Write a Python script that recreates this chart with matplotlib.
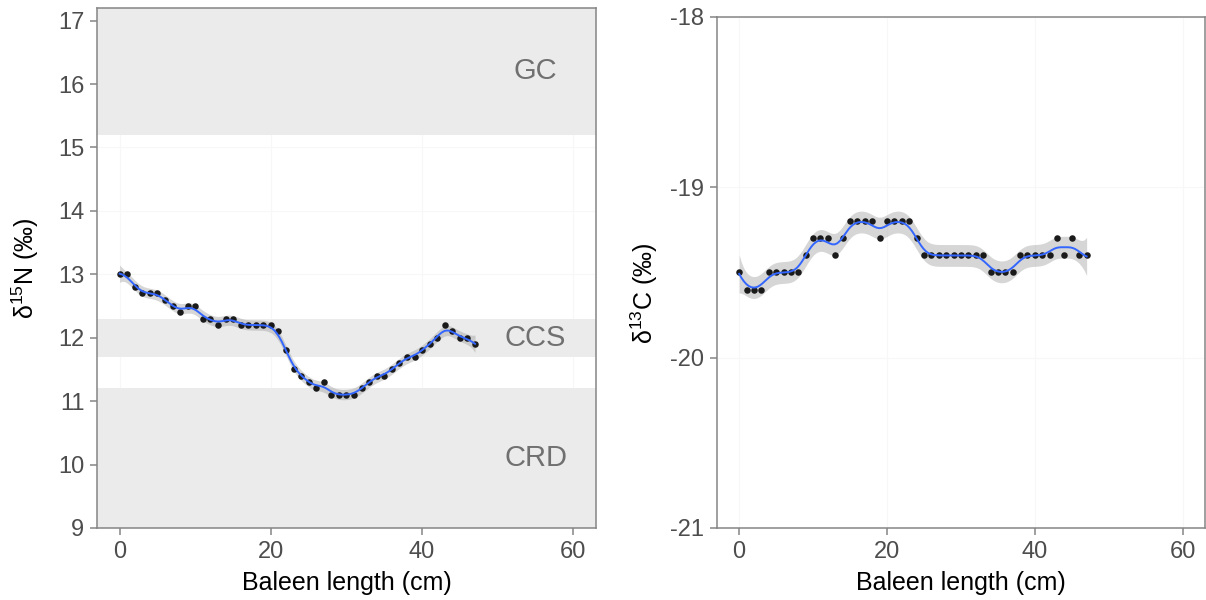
import numpy as np
import matplotlib
matplotlib.use("Agg")
import matplotlib.pyplot as plt

plt.rcParams["font.family"] = ["Liberation Sans", "DejaVu Sans"]
plt.rcParams["mathtext.fontset"] = "custom"
plt.rcParams["mathtext.rm"] = "Liberation Sans"
plt.rcParams["mathtext.it"] = "Liberation Sans"
plt.rcParams["mathtext.default"] = "regular"
plt.rcParams["axes.unicode_minus"] = False

# -------------------------------
# Data
# -------------------------------
baleen_cm = list(range(48))

d15n = [13.0, 13.0, 12.8, 12.7, 12.7, 12.7, 12.6, 12.5, 12.4, 12.5,
        12.5, 12.3, 12.3, 12.2, 12.3, 12.3, 12.2, 12.2, 12.2, 12.2,
        12.2, 12.1, 11.8, 11.5, 11.4, 11.3, 11.2, 11.3, 11.1, 11.1,
        11.1, 11.1, 11.2, 11.3, 11.4, 11.4, 11.5, 11.6, 11.7, 11.7,
        11.8, 11.9, 12.0, 12.2, 12.1, 12.0, 12.0, 11.9]

d13c = [-19.5, -19.6, -19.6, -19.6, -19.5, -19.5, -19.5, -19.5, -19.5, -19.4,
        -19.3, -19.3, -19.3, -19.4, -19.3, -19.2, -19.2, -19.2, -19.2, -19.3,
        -19.2, -19.2, -19.2, -19.2, -19.3, -19.4, -19.4, -19.4, -19.4, -19.4,
        -19.4, -19.4, -19.4, -19.4, -19.5, -19.5, -19.5, -19.5, -19.4, -19.4,
        -19.4, -19.4, -19.4, -19.3, -19.4, -19.3, -19.4, -19.4]

# isotopic regions (d15N bands)
region_names = ["GC", "CCS", "CRD"]
region_low = [15.2, 11.7, 8.0]
region_high = [18.0, 12.3, 11.2]
region_label_y = [16.2, 12.0, 10.1]

x_ticks = [0, 20, 40, 60]


# -------------------------------
# Smoother (local linear, gaussian kernel) + CI band
# -------------------------------
def smooth(x, y, bw=1.0, z=1.96, n_out=150):
    x = np.asarray(x, float)
    y = np.asarray(y, float)
    grid = np.linspace(x.min(), x.max(), n_out)

    def weights_at(x0):
        w = np.exp(-0.5 * ((x - x0) / bw) ** 2)
        X = np.column_stack([np.ones_like(x), x - x0])
        W = X.T * w
        A = np.linalg.solve(W @ X, W)
        return A[0]

    L = np.array([weights_at(xi) for xi in x])
    resid = y - L @ y
    dof = len(x) - np.trace(L)
    sigma = np.sqrt(np.sum(resid ** 2) / dof)

    fit, se = [], []
    for g in grid:
        l = weights_at(g)
        fit.append(l @ y)
        se.append(sigma * np.sqrt(np.sum(l ** 2)))
    fit = np.array(fit)
    se = np.array(se)
    return grid, fit, fit - z * se, fit + z * se


def style_axes(ax, ylim, yticks):
    ax.set_xlim(-3, 63)
    ax.set_ylim(*ylim)
    ax.set_xticks(x_ticks)
    ax.set_yticks(yticks)
    for sp in ax.spines.values():
        sp.set_color("#858585")
        sp.set_linewidth(1.1)
    ax.tick_params(axis="both", colors="#858585", labelcolor="#4d4d4d",
                   labelsize=17, length=5, width=1.1, pad=4)
    ax.grid(True, color="#f7f7f7", linewidth=0.8, zorder=0)
    ax.set_axisbelow(True)
    ax.set_xlabel("Baleen length (cm)", fontsize=18, color="black", labelpad=6)


def draw_smooth(ax, x, y, bw, z):
    gx, gy, lo, hi = smooth(x, y, bw=bw, z=z)
    ax.fill_between(gx, lo, hi, color="#999999", alpha=0.4, lw=0, zorder=3)
    ax.scatter(x, y, s=22, color="#1a1a1a", lw=0, zorder=4)
    ax.plot(gx, gy, color="#3366ff", lw=1.4, zorder=5)


fig = plt.figure(figsize=(12.06, 6.0), dpi=100)

# -------------------------------
# Left panel: d15N
# -------------------------------
ax1 = fig.add_axes([0.0804, 0.12, 0.4138, 0.8667])
style_axes(ax1, (9, 17.2), list(range(9, 18)))
for name, lo, hi, ly in zip(region_names, region_low, region_high, region_label_y):
    ax1.axhspan(lo, hi, color="#ebebeb", lw=0, zorder=1)
    ax1.text(55, ly, name, fontsize=21, color="#707070", ha="center",
             va="center", zorder=6)
draw_smooth(ax1, baleen_cm, d15n, bw=0.9, z=3.0)
ax1.set_ylabel(r"$\delta^{15}$N (‰)", fontsize=18)
ax1.yaxis.set_label_coords(-0.112, 0.5)

# -------------------------------
# Right panel: d13C
# -------------------------------
ax2 = fig.add_axes([0.5945, 0.12, 0.4046, 0.8517])
style_axes(ax2, (-21, -18), [-21, -20, -19, -18])
draw_smooth(ax2, baleen_cm, d13c, bw=1.0, z=3.5)
ax2.set_ylabel(r"$\delta^{13}$C (‰)", fontsize=18)
ax2.yaxis.set_label_coords(-0.117, 0.46)

fig.savefig("out.png", dpi=100)
